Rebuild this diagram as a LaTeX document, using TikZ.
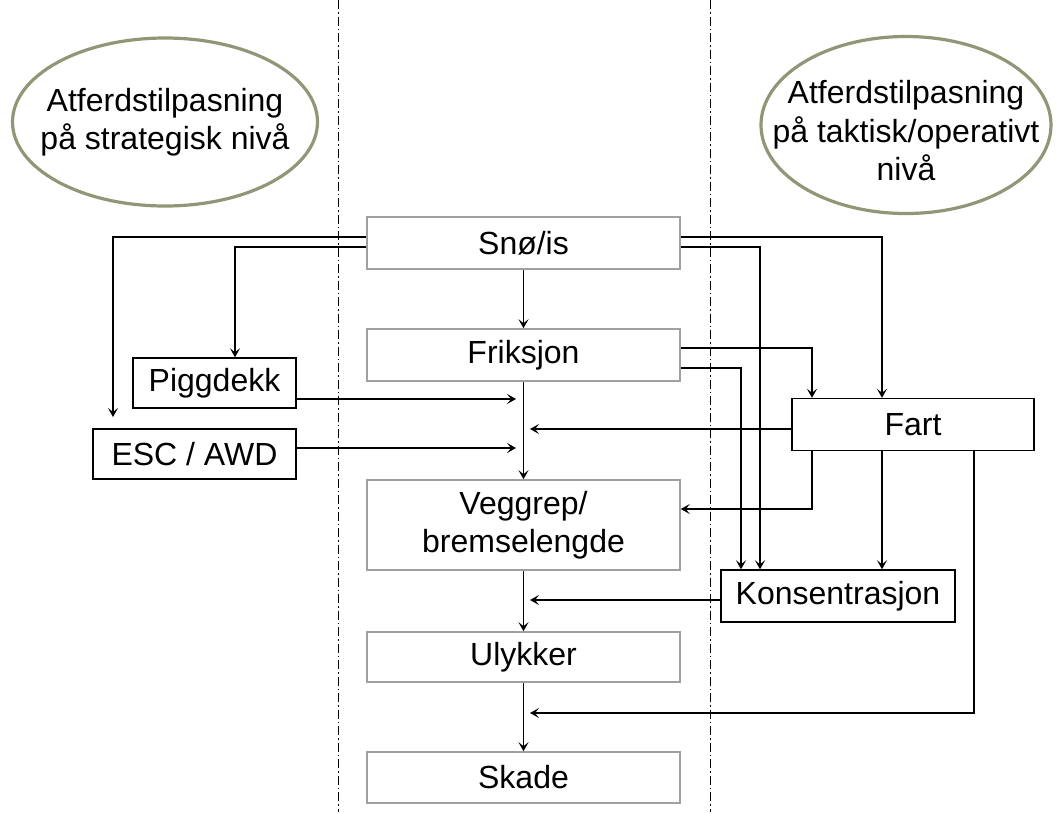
\documentclass[tikz,border=0pt]{standalone}
\usepackage{fontspec}
\setmainfont{Liberation Sans}
\usetikzlibrary{arrows.meta,shapes.geometric}
\definecolor{boxgray}{RGB}{160,160,160}
\definecolor{ellcol}{RGB}{146,150,118}
\begin{document}
\begin{tikzpicture}[x=1pt,y=-1pt,
  every node/.style={font=\fontsize{32}{38.5}\selectfont, inner sep=0pt},
  cbox/.style={draw=boxgray, line width=1.6pt, minimum width=313pt, align=center},
  kbox/.style={draw=black, line width=1.4pt},
  ell/.style={draw=ellcol, line width=3.2pt, ellipse},
  ltext/.style={align=center},
  arr/.style={line width=1.2pt, -{Stealth[length=9pt,width=10pt,inset=4pt]}},
  divider/.style={line width=0.9pt, dash pattern=on 9pt off 3pt on 1.5pt off 3pt}]
\useasboundingbox (0,0) rectangle (1058,812);
% dividers
\coordinate (d1t) at (338,0); \coordinate (d1b) at (338,812);
\coordinate (d2t) at (710,0); \coordinate (d2b) at (710,812);
\draw[divider] (d1t) -- (d1b);
\draw[divider] (d2t) -- (d2b);
% ellipses
\node[ell, minimum width=305pt, minimum height=168pt] (el) at (165,122) {};
\node[ltext] (elt) at (165,122) {Atferdstilpasning\\på strategisk nivå};
\node[ell, minimum width=290pt, minimum height=177pt] (er) at (906,125) {};
\node[ltext] (ert) at (906,131) {Atferdstilpasning\\på taktisk/operativt\\nivå};
% central boxes
\node[cbox, minimum height=52pt] (sno) at (523.5,243) {Snø/is};
\node[cbox, minimum height=52pt] (fri) at (523.5,355) {Friksjon};
\node[cbox, minimum height=90pt] (veg) at (523.5,525) {Veggrep/\\bremselengde};
\node[cbox, minimum height=50pt] (uly) at (523.5,657) {Ulykker};
\node[cbox, minimum height=51pt] (ska) at (523.5,777.5) {Skade};
% side boxes
\node[kbox, minimum width=163pt, minimum height=50pt] (pig) at (214.5,383) {Piggdekk};
\node[kbox, minimum width=203pt, minimum height=50pt] (esc) at (194.5,454) {ESC / AWD};
\node[kbox, minimum width=242pt, minimum height=52pt] (fart) at (913,424.5) {Fart};
\node[kbox, minimum width=234pt, minimum height=52pt] (kon) at (838,596) {Konsentrasjon};
% free ends on the central flow
\coordinate (escin) at (113,417);
\coordinate (pigto) at (516,399);
\coordinate (escto) at (516,448);
\coordinate (fartto) at (530,429);
\coordinate (konto) at (530,600);
\coordinate (fartlow) at (530,713);
% central chain
\draw[arr] (sno.south) -- (fri.north);
\draw[arr] (fri.south) -- (veg.north);
\draw[arr] (veg.south) -- (uly.north);
\draw[arr] (uly.south) -- (ska.north);
% from Snø/is
\draw[arr] ([yshift=6pt]sno.west) -| (escin);
\draw[arr] ([yshift=-4pt]sno.west) -| ([xshift=20.5pt]pig.north);
\draw[arr] ([yshift=6pt]sno.east) -| ([xshift=-31pt]fart.north);
\draw[arr] ([yshift=-4pt]sno.east) -| ([xshift=-78pt]kon.north);
% from Friksjon
\draw[arr] ([yshift=7pt]fri.east) -| ([xshift=-101pt]fart.north);
\draw[arr] ([yshift=-13pt]fri.east) -| ([xshift=-97pt]kon.north);
% from side boxes
\draw[arr] ([yshift=-16pt]pig.east) -- (pigto);
\draw[arr] ([yshift=6pt]esc.east) -- (escto);
% from Fart
\draw[arr] ([yshift=-4.5pt]fart.west) -- (fartto);
\draw[arr] ([xshift=-101pt]fart.south) |- ([yshift=16pt]veg.east);
\draw[arr] ([xshift=-31pt]fart.south) -- ([xshift=44pt]kon.north);
\draw[arr] ([xshift=61pt]fart.south) |- (fartlow);
% from Konsentrasjon
\draw[arr] ([yshift=-4pt]kon.west) -- (konto);
\end{tikzpicture}
\end{document}
